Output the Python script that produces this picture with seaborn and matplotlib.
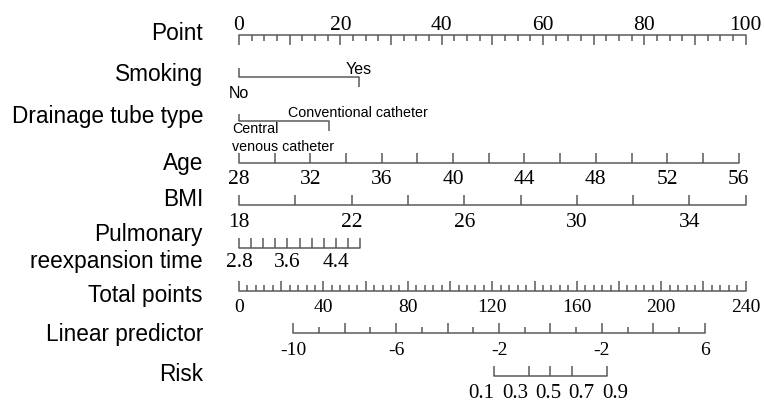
import numpy as np
import pandas as pd
import matplotlib
matplotlib.use("Agg")
import matplotlib.pyplot as plt
import seaborn as sns

# ---------------- data ----------------
row_names = ["Point", "Smoking", "Drainage tube type", "Age", "BMI",
             "Pulmonary\nreexpansion time", "Total points", "Linear predictor", "Risk"]

point_labels = [0, 20, 40, 60, 80, 100]

smoking_levels = ["No", "Yes"]
smoking_points = [0, 23.7]

tube_levels = ["Central\nvenous catheter", "Conventional catheter"]
tube_points = [0, 17.8]

age_range = [28, 56]
age_points = [0, 98.6]
age_labels = [28, 32, 36, 40, 44, 48, 52, 56]

bmi_range = [18, 36]
bmi_points = [0, 100]
bmi_labels = [18, 22, 26, 30, 34]

pulm_range = [2.8, 4.8]
pulm_points = [0, 23.9]
pulm_labels = [2.8, 3.6, 4.4]

total_max = 240
total_labels = [0, 40, 80, 120, 160, 200, 240]

lp_range = [-10, 6]
lp_total = [25.6, 220.7]
lp_label_values = [-10, -6, -2, 2, 6]
lp_label_texts = ["-10", "-6", "-2", "-2", "6"]

risk_labels = [0.1, 0.3, 0.5, 0.7, 0.9]

# ---------------- style ----------------
sns.set_theme(style="white")
plt.rcParams["text.color"] = "black"
SANS = "Liberation Sans"
SERIF = "Liberation Serif"
LC = "#5a5a5a"
LW = 1.1

W, H = 764, 403
fig = plt.figure(figsize=(W / 100, H / 100), dpi=100)
ax = fig.add_axes([0, 0, 1, 1])
X0, X100 = 239.0, 745.7
ppp = (X100 - X0) / 100.0
ax.set_xlim(-X0 / ppp, (W - X0) / ppp)
ax.set_ylim(H, 0)
ax.axis("off")


def px(xpx):
    return (xpx - X0) / ppp


def hline(x1, x2, y):
    d = pd.DataFrame({"x": [x1, x2], "y": [y, y]})
    sns.lineplot(data=d, x="x", y="y", ax=ax, color=LC, lw=LW, sort=False,
                 estimator=None)


def ticks(xs, y, length):
    ax.vlines(xs, y, y + length, color=LC, lw=LW)


def tlabel(x, y, s, size):
    ax.text(x, y, s, ha="center", va="baseline", fontsize=size,
            family=SERIF, color="black")


def slabel(x, y, s, size, ha):
    ax.text(x, y, s, ha=ha, va="baseline", fontsize=size, family=SANS, color="black")


def lin(v, vr, pr):
    return pr[0] + (np.asarray(v, float) - vr[0]) / (vr[1] - vr[0]) * (pr[1] - pr[0])


# row labels (right aligned)
NAME_FS = 16.3
name_baselines = [40, 81.5, 123, 170, 206.5, None, 302, 341.5, 381]
for name, yb in zip(row_names, name_baselines):
    if "\n" in name:
        l1, l2 = name.split("\n")
        slabel(px(203), 241, l1, NAME_FS, "right")
        slabel(px(203), 268, l2, NAME_FS, "right")
    else:
        slabel(px(203), yb, name, NAME_FS, "right")

TOP = 15.5
BOT = 14

# Point axis
yP = 35
hline(0, 100, yP)
minor = np.arange(0, 100.01, 2.5)
ticks([m for m in minor if abs(m % 10) > 1e-6], yP, 6)
ticks(np.arange(0, 100.01, 10), yP, 10)
for v in point_labels:
    tlabel(v, 30, str(v), TOP)

# Smoking
yS = 77
hline(smoking_points[0], smoking_points[1], yS)
ticks([smoking_points[0]], yS, -9)
ticks([smoking_points[1]], yS, 10)
slabel(smoking_points[1], 74, smoking_levels[1], 11.5, "center")
slabel(smoking_points[0], 98, smoking_levels[0], 11.5, "center")

# Drainage tube type
yD = 121
hline(tube_points[0], tube_points[1], yD)
ticks([tube_points[0]], yD, -7)
ticks([tube_points[1]], yD, 10)
slabel(px(288), 117, tube_levels[1], 10.3, "left")
for i, line in enumerate(tube_levels[0].split("\n")):
    slabel(px(232), 133 + 18 * i, line, 10.3, "left")

# Age
yA = 163
hline(age_points[0], age_points[1], yA)
ticks(lin(np.arange(age_range[0], age_range[1] + 0.01, 2), age_range, age_points), yA, -10)
for v in age_labels:
    tlabel(lin(v, age_range, age_points), 184, str(v), TOP)

# BMI
yB = 205
hline(bmi_points[0], bmi_points[1], yB)
ticks(lin(np.arange(bmi_range[0], bmi_range[1] + 0.01, 2), bmi_range, bmi_points), yB, -10)
for v in bmi_labels:
    tlabel(lin(v, bmi_range, bmi_points), 227, str(v), TOP)

# Pulmonary reexpansion time
yR = 248
hline(pulm_points[0], pulm_points[1], yR)
ticks(lin(np.arange(pulm_range[0], pulm_range[1] + 0.001, 0.2), pulm_range, pulm_points), yR, -10)
for v in pulm_labels:
    tlabel(lin(v, pulm_range, pulm_points), 267, f"{v:.1f}", TOP)

# Total points
yT = 290.5
tp = lambda t: np.asarray(t, float) * 100.0 / total_max
hline(0, 100, yT)
tt = np.arange(0, total_max + 0.01, 4)
ticks(tp([t for t in tt if t % 20 != 0]), yT, -6)
ticks(tp(np.arange(0, total_max + 0.01, 20)), yT, -10)
for v in total_labels:
    tlabel(tp(v), 312, str(v), BOT)

# Linear predictor
yL = 333
lp_pts = [tp(lp_total[0]), tp(lp_total[1])]
hline(lp_pts[0], lp_pts[1], yL)
allv = np.arange(lp_range[0], lp_range[1] + 0.01, 1)
ticks(lin([v for v in allv if v % 2 != 0], lp_range, lp_pts), yL, -6)
ticks(lin([v for v in allv if v % 2 == 0], lp_range, lp_pts), yL, -10)
for v, s in zip(lp_label_values, lp_label_texts):
    tlabel(lin(v, lp_range, lp_pts), 355, s, BOT)

# Risk
yK = 376
logit = np.log(np.array(risk_labels) / (1 - np.array(risk_labels)))
rx = lin(logit, lp_range, lp_pts)
hline(rx[0], rx[-1], yK)
ticks(rx, yK, -10)
# labels are set in an evenly spaced row beneath the scale
for i, v in enumerate(risk_labels):
    tlabel(px(481.7 + 33.3 * i), 398, f"{v:.1f}", 15)

fig.savefig("out.png", dpi=100)
